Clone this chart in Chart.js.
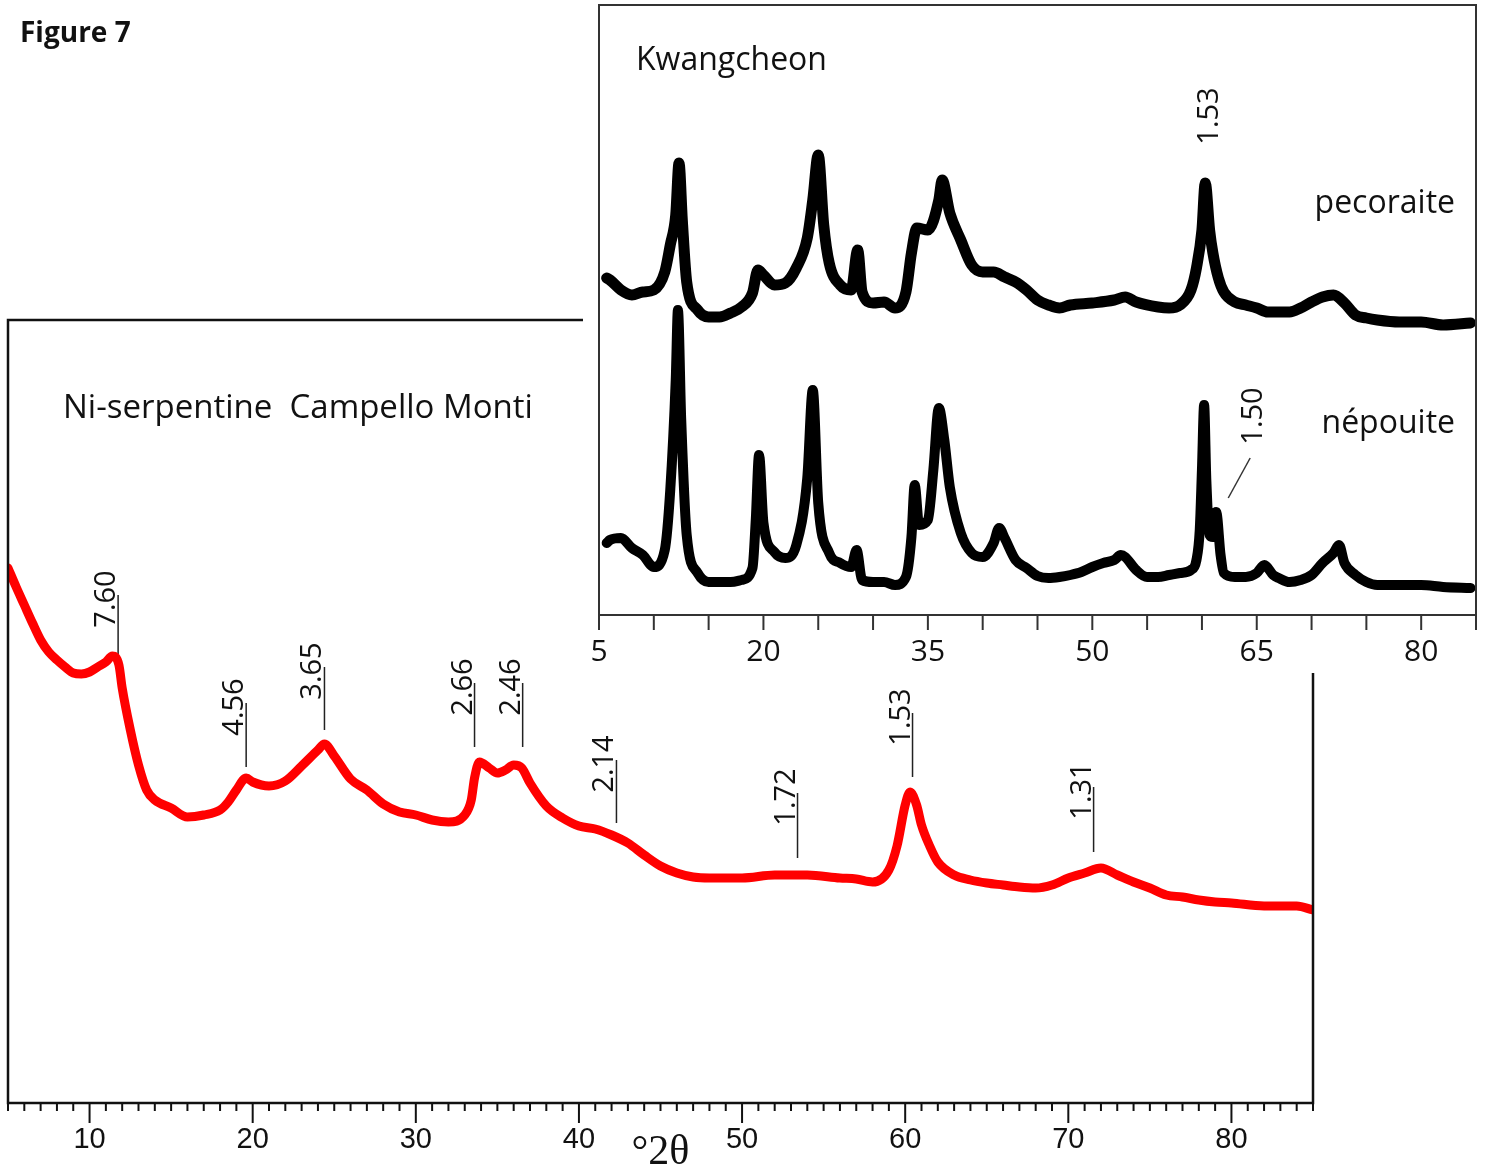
<!DOCTYPE html>
<html><head><meta charset="utf-8">
<script src="https://cdn.jsdelivr.net/npm/chart.js@4"></script>
<style>
html,body{margin:0;padding:0;background:#fff;}
#wrap{position:relative;width:1489px;height:1173px;overflow:hidden;background:#fff;}
#main{position:absolute;left:0;top:0;}
#inset{position:absolute;left:583px;top:0;background:#fff;}
</style></head><body>
<div id="wrap">
<canvas id="main" width="1489" height="1173"></canvas>
<canvas id="inset" width="906" height="673"></canvas>
</div>
<script>
// ---------- Main pattern: Ni-serpentine Campello Monti (arbitrary intensity units) ----------
const mainTheta = [5,5.5,6,6.5,7,7.5,8,8.5,9,9.5,10,10.5,11,11.4,11.8,12,12.5,13,13.5,14,15,16,17,18,18.5,19,19.6,20,21,22,23,24,24.4,25,26,27,28,29,30,31,32,33,33.4,33.6,33.9,34.5,35,35.5,36,36.5,37,38,39,40,41,42,43,44,45,46,47,48,50,52,54,56,57,58,59,59.5,60,60.3,60.7,61,61.5,62,63,64,65,66,67,68,69,70,71,72,73,74,75,76,77,78,79,80,82,84,85];
const mainCounts = [535,516,498,480,463,451,443,436,430,429,431,436,441,447,438,415,373,338,313,303,295,286,288,293,301,313,325,321,317,322,337,353,359,347,324,313,299,291,288,283,281,288,303,325,341,335,330,333,338,335,320,297,285,277,274,268,260,248,237,230,226,225,225,228,228,225,224,221,233,257,298,311,298,278,257,241,228,223,220,218,216,215,218,225,230,235,228,221,215,208,206,203,201,200,197,197,193];
const mainTickLabels = [10,20,30,40,50,60,70,80];
const mainPeakLabels = ['7.60','4.56','3.65','2.66','2.46','2.14','1.72','1.53','1.31'];
const mainPeakTheta  = [11.75,19.6,24.4,33.6,36.55,42.3,53.4,60.45,71.55];
const mainPeakTop    = [508,400,436,420,420,343,310,390,316];
const mainPeakBottom = [445,336,373,356,356,280,245,326,251];

// ---------- Inset: Kwangcheon ----------
const pecTheta = [5.7,6,7,8,9,10,11,11.5,12,12.3,12.6,13,14,15,16,17,18,19,19.5,20,21,22,23,24,24.5,25,25.5,26,27,28,28.6,29,30,31,32,33,33.5,34,35,36,36.3,37,38,39,40,41,42,43,44,45,46,47,48,50,52,53,54,56,57,58,59,59.5,60,60.3,60.7,61,61.5,62,63,64,65,66,67,68,69,70,71,72,73,74,75,76,78,80,82,84.5];
const pecCounts = [337,335,325,320,323,325,343,370,400,452,395,333,305,298,298,302,308,322,345,340,330,332,347,377,415,460,390,352,330,325,365,323,312,313,307,323,362,387,385,415,435,402,375,350,343,343,338,333,325,315,310,307,310,312,315,318,313,308,307,310,325,347,385,432,385,362,337,323,313,310,307,303,303,303,307,313,318,320,312,300,297,295,293,293,290,292];
const nepTheta = [5.7,6,7,8,9,10,11,11.5,12,12.2,12.5,13,14,15,16,17,18,19,19.3,19.6,20,21,22,23,24,24.5,25,26,27,28,28.5,29,30,31,32,33,33.5,33.8,34.2,35,35.5,36,36.5,37,38,39,40,41,41.5,42,43,44,45,46,47,48,49,50,51,52,52.6,53,54,55,56,57,58,59,59.5,59.8,60,60.2,60.4,60.7,61,61.3,61.7,62,63,64,65,65.7,66.5,67,68,69,70,71,72,72.5,73,74,75,76,78,80,82,84.5];
const nepCounts = [72,75,77,67,60,48,65,125,235,305,195,80,42,33,33,33,35,47,95,160,92,63,57,70,137,225,112,62,52,48,65,35,33,33,30,38,78,130,90,95,145,207,175,128,82,62,58,72,87,77,55,47,39,37,38,40,43,48,52,55,60,58,45,38,38,40,42,45,55,85,145,210,135,80,78,103,60,42,38,38,42,50,40,37,33,35,40,52,62,70,52,40,33,30,30,30,28,27];
const insetTickLabels = [5,20,35,50,65,80];
const insetPeakLabels = ['1.53','1.50'];
const insetPeakTheta  = [61.5,65.5];
const insetPeakCounts = [499,199];
const leaderTheta  = [64.4,62.4];
const leaderCounts = [157,117];

// ---------- helpers ----------
const pts = (xs, ys) => xs.map((x, i) => ({x: x, y: ys[i]}));
const OS = '"Open Sans", "Noto Sans", sans-serif';

const mainDecor = {
  id: 'mainDecor',
  afterDraw(chart) {
    const {ctx, chartArea: a, scales: {x, y}} = chart;
    ctx.save();
    ctx.strokeStyle = '#111';
    ctx.lineWidth = 2.5;
    ctx.strokeRect(a.left, a.top, a.right - a.left, a.bottom - a.top);
    ctx.lineWidth = 2;
    x.ticks.forEach(t => {
      const px = x.getPixelForValue(t.value);
      const len = mainTickLabels.includes(t.value) ? 20 : 8;
      ctx.beginPath(); ctx.moveTo(px, a.bottom); ctx.lineTo(px, a.bottom + len); ctx.stroke();
    });
    ctx.fillStyle = '#111';
    ctx.font = '42px "Liberation Serif", serif';
    ctx.textAlign = 'center'; ctx.textBaseline = 'middle';
    ctx.fillText('°2θ', (a.left + a.right) / 2, 1153);
    ctx.textAlign = 'left'; ctx.textBaseline = 'alphabetic';
    ctx.font = 'bold 28px ' + OS;
    ctx.fillText('Figure 7', 20, 42);
    ctx.font = '33px ' + OS;
    ctx.fillText('Ni-serpentine  Campello Monti', 63, 418);
    ctx.font = '29px ' + OS;
    mainPeakLabels.forEach((lab, i) => {
      const px = x.getPixelForValue(mainPeakTheta[i]);
      const py = y.getPixelForValue(mainPeakTop[i]);
      ctx.save();
      ctx.translate(px - 3, py + 4);
      ctx.rotate(-Math.PI / 2);
      ctx.textAlign = 'center'; ctx.textBaseline = 'alphabetic';
      ctx.fillText(lab, 0, 0);
      ctx.restore();
    });
    ctx.restore();
  }
};

const insetDecor = {
  id: 'insetDecor',
  afterDraw(chart) {
    const {ctx, chartArea: a, scales: {x, y}} = chart;
    ctx.save();
    ctx.strokeStyle = '#333';
    ctx.lineWidth = 2;
    ctx.strokeRect(a.left, a.top, a.right - a.left, a.bottom - a.top);
    x.ticks.forEach(t => {
      const px = x.getPixelForValue(t.value);
      ctx.beginPath(); ctx.moveTo(px, a.bottom); ctx.lineTo(px, a.bottom + 15); ctx.stroke();
    });
    ctx.fillStyle = '#111';
    ctx.font = '32px ' + OS;
    ctx.textAlign = 'left'; ctx.textBaseline = 'alphabetic';
    ctx.fillText('Kwangcheon', 53, 70);
    ctx.textAlign = 'right';
    ctx.fillText('pecoraite', 872, 213);
    ctx.fillText('népouite', 872, 433);
    ctx.font = '29px ' + OS;
    insetPeakLabels.forEach((lab, i) => {
      const px = x.getPixelForValue(insetPeakTheta[i]);
      const py = y.getPixelForValue(insetPeakCounts[i]);
      ctx.save();
      ctx.translate(px, py);
      ctx.rotate(-Math.PI / 2);
      ctx.textAlign = 'center'; ctx.textBaseline = 'alphabetic';
      ctx.fillText(lab, 0, 0);
      ctx.restore();
    });
    ctx.restore();
  }
};

const lineDs = (data, color, w) => ({data: data, borderColor: color, borderWidth: w, pointRadius: 0,
  borderJoinStyle: 'round', borderCapStyle: 'round', cubicInterpolationMode: 'monotone', fill: false});

new Chart(document.getElementById('main'), {
  type: 'line',
  data: { datasets: [
    lineDs(pts(mainTheta, mainCounts), '#ff0000', 9),
    ...mainPeakTheta.map((t, i) => ({data: [{x: t, y: mainPeakTop[i]}, {x: t, y: mainPeakBottom[i]}],
      borderColor: '#222', borderWidth: 1.5, pointRadius: 0}))
  ]},
  options: {
    responsive: false, animation: false,
    layout: {padding: {left: 8, right: 176, top: 320, bottom: 0}},
    plugins: {legend: {display: false}, tooltip: {enabled: false}},
    scales: {
      x: {type: 'linear', min: 5, max: 85,
        afterFit(s) { s.height = 70; },
        grid: {display: true, drawOnChartArea: false, drawTicks: true, tickLength: 20, color: 'rgba(0,0,0,0)'},
        border: {display: false},
        ticks: {stepSize: 1, autoSkip: false, maxRotation: 0, minRotation: 0, padding: 0, color: '#111',
          font: {family: 'Liberation Sans', size: 29},
          callback: v => mainTickLabels.includes(v) ? String(v) : ''}},
      y: {display: false, min: 0, max: 783}
    }
  },
  plugins: [mainDecor]
});

new Chart(document.getElementById('inset'), {
  type: 'line',
  data: { datasets: [
    lineDs(pts(pecTheta, pecCounts), '#000', 11),
    lineDs(pts(nepTheta, nepCounts), '#000', 10),
    {data: pts(leaderTheta, leaderCounts), borderColor: '#333', borderWidth: 1.5, pointRadius: 0}
  ]},
  options: {
    responsive: false, animation: false,
    layout: {padding: {left: 16, right: 13, top: 5, bottom: 0}},
    plugins: {legend: {display: false}, tooltip: {enabled: false}},
    scales: {
      x: {type: 'linear', min: 5, max: 85,
        afterFit(s) { s.height = 58; },
        grid: {display: true, drawOnChartArea: false, drawTicks: true, tickLength: 15, color: 'rgba(0,0,0,0)'},
        border: {display: false},
        ticks: {stepSize: 5, autoSkip: false, maxRotation: 0, minRotation: 0, padding: 4, color: '#111',
          font: {family: 'Open Sans', size: 30},
          callback: v => insetTickLabels.includes(v) ? String(v) : ''}},
      y: {display: false, min: 0, max: 610}
    }
  },
  plugins: [insetDecor]
});
</script>
</body></html>
